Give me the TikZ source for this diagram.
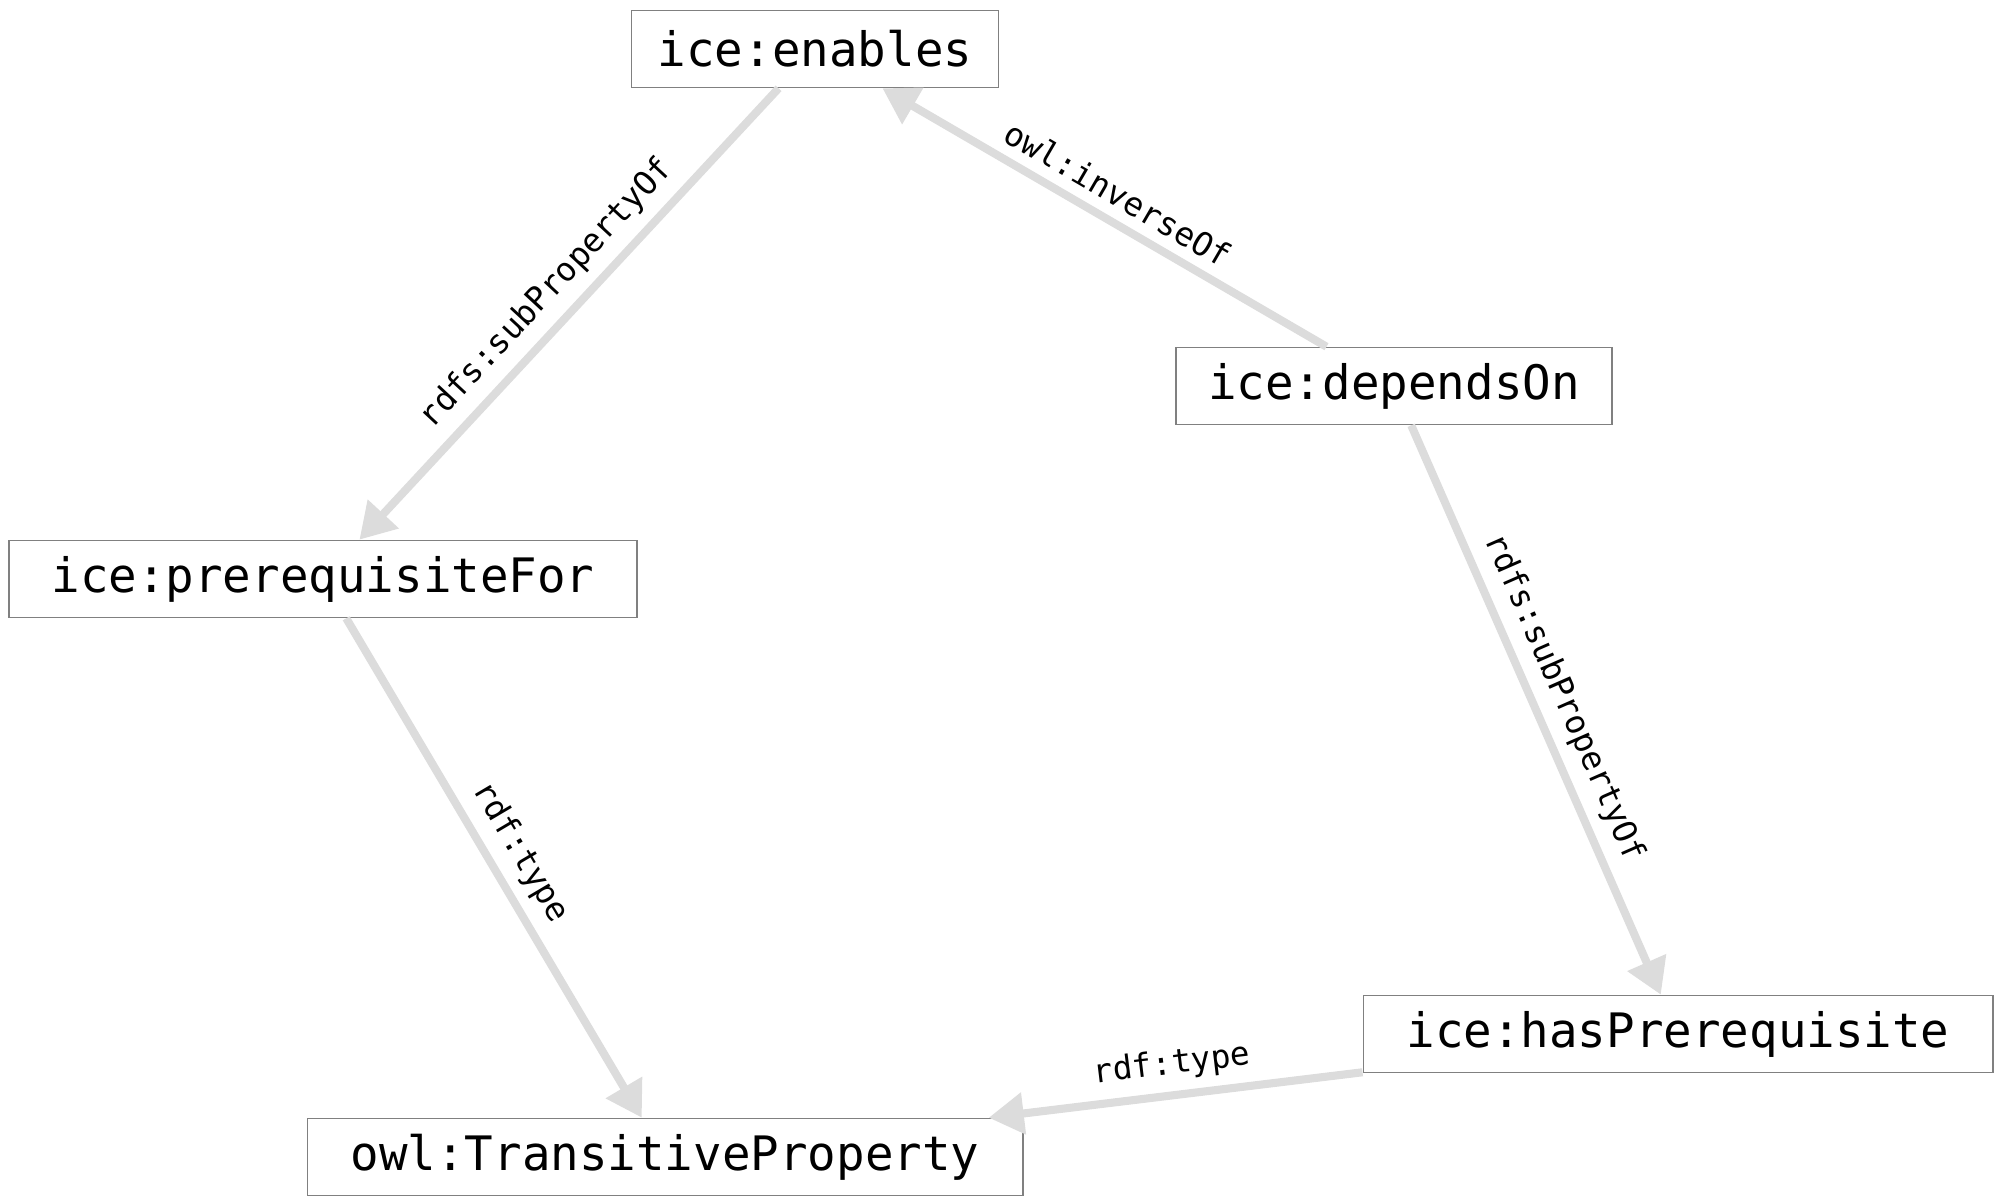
\documentclass[tikz,border=0pt]{standalone}
\usepackage{fontspec}
\newfontfamily\monofont{DejaVu Sans Mono}
\usetikzlibrary{arrows.meta}
\definecolor{edgegray}{HTML}{DCDCDC}
\definecolor{boxgray}{HTML}{808080}
\begin{document}
\begin{tikzpicture}[x=0.01cm,y=-0.01cm,
  entity/.style={draw=boxgray, line width=0.45pt, fill=white, inner sep=0pt,
    minimum height=0.77cm, font=\monofont\fontsize{13.5}{16}\selectfont},
  rel/.style={draw=edgegray, line width=2.3pt, -{Triangle[length=10pt,width=11.5pt]}},
  lbl/.style={font=\monofont\fontsize{9.3}{11}\selectfont, sloped, above=1pt, inner sep=2pt, midway}]
\useasboundingbox (0,0) rectangle (2000,1200);
\node[entity, minimum width=3.67cm] (en) at (815,49) {ice:enables};
\node[entity, minimum width=4.36cm] (dep) at (1394,386) {ice:dependsOn};
\node[entity, minimum width=6.28cm] (pre) at (323,579) {ice:prerequisiteFor};
\node[entity, minimum width=6.29cm] (has) at (1678,1034) {ice:hasPrerequisite};
\node[entity, minimum width=7.15cm] (tp) at (665,1157) {owl:TransitiveProperty};
\draw[rel] (en) -- node[lbl] {rdfs:subPropertyOf} (pre);
\draw[rel] (dep) -- node[lbl] {owl:inverseOf} (en);
\draw[rel] (dep) -- node[lbl] {rdfs:subPropertyOf} (has);
\draw[rel] (pre) -- node[lbl] {rdf:type} (tp);
\draw[rel] (has) -- node[lbl] {rdf:type} (tp);
\end{tikzpicture}
\end{document}
